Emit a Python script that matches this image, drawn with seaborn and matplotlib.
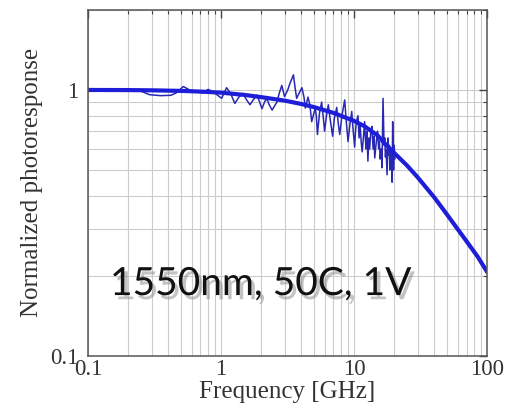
import numpy as np
import pandas as pd
import seaborn as sns
import matplotlib.pyplot as plt
import matplotlib.patheffects as pe
from matplotlib.ticker import NullFormatter

# smooth fitted roll-off curve
fit_freq = [0.1, 0.2, 0.3, 0.5, 0.7, 1, 1.5, 2, 3, 4, 5, 7, 10, 12, 15, 17, 20, 25, 30,
            40, 50, 60, 70, 85, 100]
fit_resp = [1.0, 0.999, 0.997, 0.992, 0.986, 0.977, 0.958, 0.94, 0.912, 0.886, 0.862,
            0.82, 0.765, 0.73, 0.675, 0.63, 0.58, 0.52, 0.47, 0.395, 0.34, 0.3, 0.27,
            0.236, 0.207]

# measured response (noisy trace up to ~20 GHz)
meas_freq = [0.1, 0.15, 0.2, 0.25, 0.29, 0.35, 0.42, 0.46, 0.52, 0.58, 0.65, 0.72, 0.8,
             0.87, 0.93, 1.01, 1.1, 1.18, 1.27, 1.36, 1.46, 1.55, 1.65, 1.75, 1.86, 1.95,
             2.03, 2.12, 2.2, 2.3, 2.42, 2.52, 2.63, 2.75, 2.86, 3.0, 3.17, 3.3, 3.5, 3.6,
             3.7, 3.85, 4.05, 4.2, 4.3, 4.5, 4.65, 4.8, 5.1, 5.2, 5.3, 5.5, 5.7, 5.85, 6.0,
             6.2, 6.4, 6.6, 6.9, 7.1, 7.4, 7.6, 7.8, 8.1, 8.5, 8.7, 9.0, 9.3, 9.6, 9.8,
             10.1, 10.25, 10.4, 10.7, 10.9, 11.1, 11.3, 11.5, 11.8, 12.0, 12.15, 12.3,
             12.5, 12.7, 12.9, 13.1, 13.35, 13.6, 13.9, 14.1, 14.3, 14.6, 14.8, 15.0, 15.3,
             15.5, 15.7, 16.0, 16.2, 16.5, 16.8, 17.0, 17.2, 17.4, 17.7, 18.0, 18.2, 18.4,
             18.6, 18.8, 19.0, 19.3, 19.5, 19.8, 20.0, 20.3]
meas_resp = [1.0, 1.0, 0.998, 0.99, 0.96, 0.952, 0.955, 0.975, 1.03, 1.0, 0.985, 0.975,
             1.005, 0.985, 0.96, 0.93, 1.02, 0.97, 0.89, 0.94, 0.97, 0.92, 0.88, 0.92,
             0.957, 0.9, 0.85, 0.9, 0.93, 0.88, 0.84, 0.87, 0.9, 0.98, 1.04, 0.944, 1.0,
             1.06, 1.14, 1.02, 0.93, 0.97, 1.02, 0.94, 0.855, 0.94, 0.88, 0.76, 0.855, 0.8,
             0.68, 0.82, 0.90, 0.8, 0.70, 0.8, 0.88, 0.78, 0.67, 0.78, 0.86, 0.75, 0.68,
             0.8, 0.917, 0.78, 0.64, 0.74, 0.83, 0.72,
             0.61, 0.7, 0.76, 0.80, 0.66, 0.74, 0.64, 0.585, 0.68, 0.76, 0.66, 0.6,
             0.7, 0.54, 0.66, 0.6, 0.7, 0.73, 0.6, 0.67, 0.555, 0.62, 0.66, 0.70, 0.6,
             0.64, 0.55, 0.6, 0.51, 0.93, 0.62, 0.66, 0.56, 0.6, 0.48, 0.66, 0.57, 0.62,
             0.5, 0.56, 0.6, 0.45, 0.76, 0.5, 0.62, 0.55]

x_ticks = [0.1, 1, 10, 100]
x_labels = ["0.1", "1", "10", "100"]
y_ticks = [0.1, 1]
y_labels = ["0.1", "1"]

df_fit = pd.DataFrame({"freq": fit_freq, "resp": fit_resp})
df_meas = pd.DataFrame({"freq": meas_freq, "resp": meas_resp})

sns.set_style("white")
plt.rcParams["font.family"] = ["Liberation Serif", "DejaVu Serif"]

fig = plt.figure(figsize=(5.09, 4.12), dpi=100)
ax = fig.add_axes([0.173, 0.136, 0.784, 0.84])

sns.lineplot(data=df_meas, x="freq", y="resp", color="#2828b4", lw=1.1, ax=ax)
sns.lineplot(data=df_fit, x="freq", y="resp", color="#1e1ed8", lw=3, ax=ax)

ax.set_xscale("log")
ax.set_yscale("log")
ax.set_xlim(0.1, 100)
ax.set_ylim(0.1, 2)
ax.set_xticks(x_ticks)
ax.set_xticklabels(x_labels)
ax.set_yticks(y_ticks)
ax.set_yticklabels(y_labels)
ax.xaxis.set_minor_formatter(NullFormatter())
ax.yaxis.set_minor_formatter(NullFormatter())

ax.grid(which="both", color="#cccccc", lw=0.8)
ax.tick_params(which="both", direction="in", top=True, right=True, colors="#444444",
               labelsize=16.5, labelcolor="#333333")
ax.tick_params(which="major", length=6, width=1)
ax.tick_params(which="minor", length=3, width=0.8)
ax.tick_params(axis="x", pad=2)
ax.tick_params(axis="y", pad=7)
for s in ax.spines.values():
    s.set_color("#555555")
    s.set_linewidth(1.1)

ax.set_xlabel("Frequency [GHz]", fontsize=18, color="#333333", labelpad=1)
ax.set_ylabel("Normalized photoresponse", fontsize=18, color="#333333", labelpad=5)

ax.text(0.055, 0.176, "1550nm, 50C, 1V", transform=ax.transAxes, ha="left",
        va="baseline", fontsize=28, family=["Lato", "DejaVu Sans"], color="#111111",
        path_effects=[pe.SimplePatchShadow(offset=(2.5, -3), shadow_rgbFace="#888888",
                                           alpha=0.5), pe.Normal()])

fig.savefig("out.png", dpi=100)
